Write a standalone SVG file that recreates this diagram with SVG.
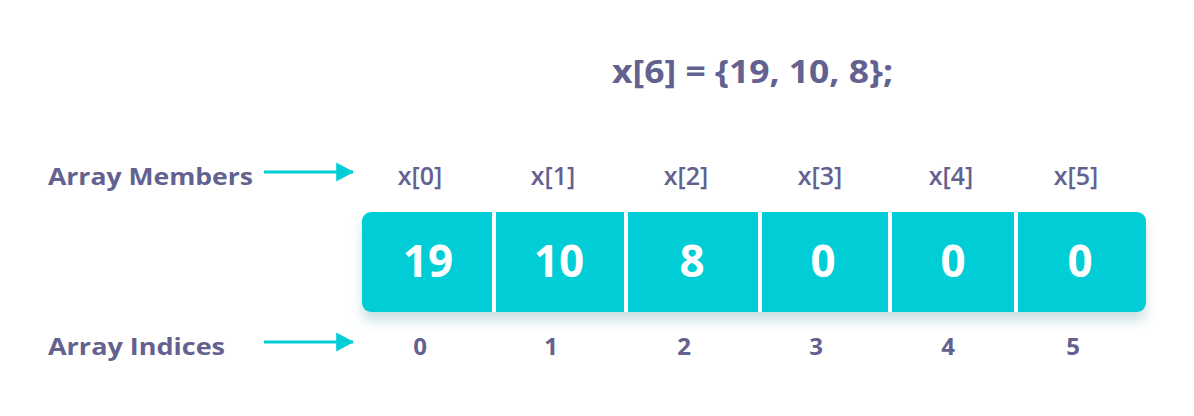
<svg xmlns="http://www.w3.org/2000/svg" width="1194" height="416" viewBox="0 0 1194 416">
<style>
.t{font-family:"Open Sans",Lato,sans-serif;font-weight:700;fill:#63618f}
.lbl{font-size:24px}
.mem{font-size:25px;font-weight:600;text-anchor:middle}
.idx{font-size:24px;text-anchor:middle}
.val{font-family:"Open Sans",Lato,sans-serif;font-weight:700;font-size:44px;fill:#ffffff;text-anchor:middle}
.cell{fill:#00cdd6}
.arrow{stroke:#00cdd6;stroke-width:3;fill:none}
</style>
<defs>
<marker id="ah" markerWidth="6" markerHeight="7" refX="5.6" refY="3.2" orient="auto" markerUnits="strokeWidth">
<path d="M0,0 L6,3.2 L0,6.4 Z" fill="#00cdd6"/>
</marker>
<filter id="sh" x="-5%" y="-20%" width="110%" height="150%">
<feGaussianBlur in="SourceAlpha" stdDeviation="6"/>
<feOffset dy="9" result="b"/>
<feFlood flood-color="#6aaab0" flood-opacity="0.35"/>
<feComposite in2="b" operator="in"/>
<feMerge><feMergeNode/><feMergeNode in="SourceGraphic"/></feMerge>
</filter>
</defs>
<rect width="1194" height="416" fill="#ffffff"/>
<text class="t" x="612" y="83" font-size="32" textLength="281" lengthAdjust="spacingAndGlyphs">x[6] = {19, 10, 8};</text>
<g id="label-members"><text class="t lbl" x="48" y="185" textLength="205" lengthAdjust="spacingAndGlyphs">Array Members</text></g>
<g id="label-indices"><text class="t lbl" x="48" y="355" textLength="177" lengthAdjust="spacingAndGlyphs">Array Indices</text></g>
<g id="array" filter="url(#sh)">
<rect x="362" y="212" width="784" height="100" rx="9" class="cell"/>
<g fill="#ffffff">
<rect x="492" y="212" width="4" height="100"/>
<rect x="624" y="212" width="4" height="100"/>
<rect x="758" y="212" width="4" height="100"/>
<rect x="888" y="212" width="4" height="100"/>
<rect x="1014" y="212" width="4" height="100"/>
</g>
</g>
<g id="cell0"><text class="t mem" x="420" y="185">x[0]</text><text class="val" x="428" y="277">19</text><text class="t idx" x="420" y="355">0</text></g>
<g id="cell1"><text class="t mem" x="553" y="185">x[1]</text><text class="val" x="559" y="277">10</text><text class="t idx" x="551" y="355">1</text></g>
<g id="cell2"><text class="t mem" x="686" y="185">x[2]</text><text class="val" x="692" y="277">8</text><text class="t idx" x="684" y="355">2</text></g>
<g id="cell3"><text class="t mem" x="820" y="185">x[3]</text><text class="val" x="823" y="277">0</text><text class="t idx" x="816" y="355">3</text></g>
<g id="cell4"><text class="t mem" x="951" y="185">x[4]</text><text class="val" x="953" y="277">0</text><text class="t idx" x="948" y="355">4</text></g>
<g id="cell5"><text class="t mem" x="1076" y="185">x[5]</text><text class="val" x="1080" y="277">0</text><text class="t idx" x="1073" y="355">5</text></g>
<g id="connectors">
<line class="arrow" x1="264" y1="172" x2="353" y2="172" marker-end="url(#ah)"/>
<line class="arrow" x1="264" y1="342" x2="353" y2="342" marker-end="url(#ah)"/>
</g>
</svg>
